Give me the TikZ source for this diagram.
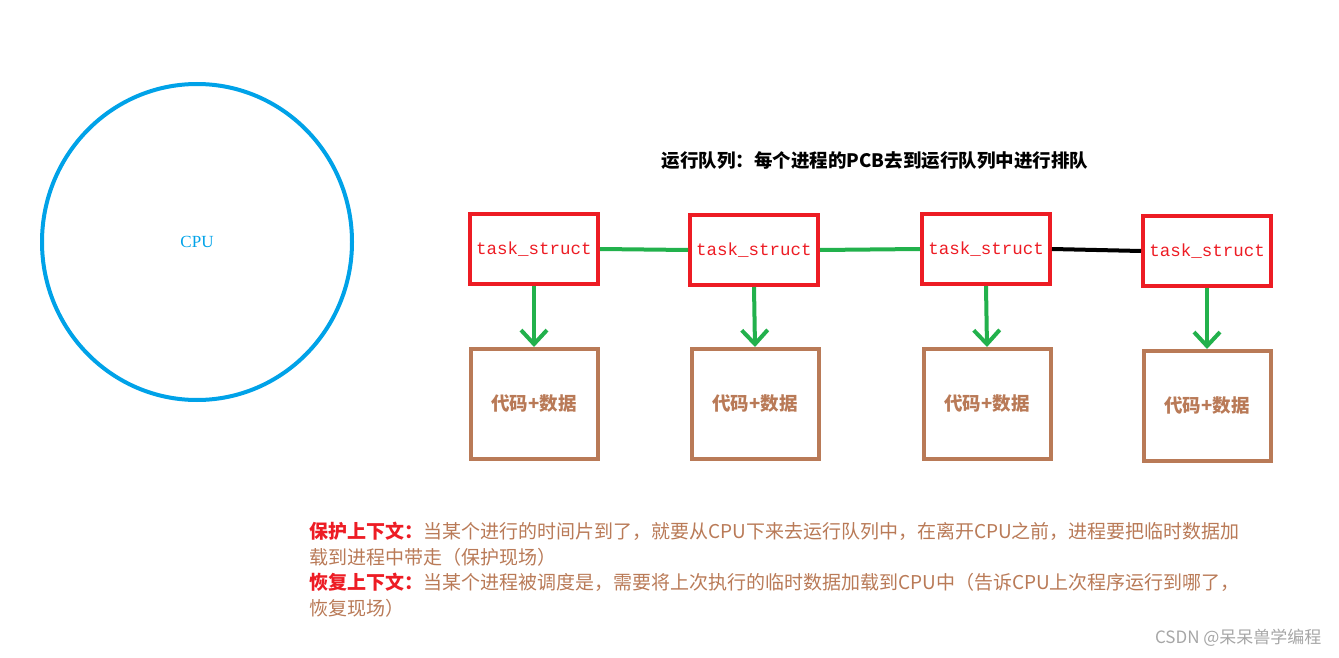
\documentclass[tikz,border=0pt]{standalone}
\usepackage{fontspec}
\setmainfont{Liberation Serif}
\setmonofont{Liberation Mono}
\newfontfamily\cjk{Noto Sans CJK SC}
\usetikzlibrary{arrows.meta}
\definecolor{pcbred}{RGB}{237,28,36}
\definecolor{codebrown}{RGB}{185,122,87}
\definecolor{linkgreen}{RGB}{34,177,76}
\definecolor{cpublue}{RGB}{0,162,232}
\begin{document}
\begin{tikzpicture}[x=1pt,y=-1pt]

\tikzset{pcb/.style = {draw=pcbred,line width=4pt,minimum width=128pt,minimum height=70pt,inner sep=0pt,text=pcbred,font=\ttfamily\fontsize{17.5}{17.5}\selectfont}}
\tikzset{code/.style = {draw=codebrown,line width=4pt,minimum width=127pt,minimum height=110pt,text=codebrown,font=\cjk\bfseries\fontsize{18.5}{18.5}\selectfont}}
\tikzset{link/.style = {linkgreen,line width=4pt}}
\tikzset{down/.style = {link,-{Straight Barb[length=14pt,width=26pt,line width=4pt]}}}
\useasboundingbox (0,0) rectangle (1339,658);
% cpu
\draw[cpublue,line width=4pt] (197,242) ellipse [x radius=155,y radius=158];
\node[text=cpublue,font=\fontsize{17}{17}\selectfont] (cpu) at (197,242) {CPU};
\node[font=\cjk\bfseries\fontsize{18.5}{18.5}\selectfont] (title) at (875,161) {运行队列：每个进程的PCB去到运行队列中进行排队};
% queue
\node[pcb] (p1) at (534,249) {task\_struct};
\node[pcb] (p2) at (754,250) {task\_struct};
\node[pcb] (p3) at (986,249) {task\_struct};
\node[pcb] (p4) at (1207,251) {task\_struct};
\node[code] (c1) at (534,404) {代码+数据};
\node[code] (c2) at (755,404) {代码+数据};
\node[code] (c3) at (987,404) {代码+数据};
\node[code] (c4) at (1207,406) {代码+数据};
%edges
\draw[link] (p1.east) -- (p2.west);
\draw[link] (p2.east) -- (p3.west);
\draw[black,line width=4pt] (p3.east) -- (p4.west);
\foreach \i in {1,...,4}
  \draw[down] (p\i.south) -- (c\i.north);
% notes
\node[anchor=north west,align=left,text=codebrown,font=\cjk\fontsize{19}{25.5}\selectfont,inner sep=0pt] (notes) at (309,522)
  {{\color{pcbred}\bfseries 保护上下文：}当某个进行的时间片到了，就要从CPU下来去运行队列中，在离开CPU之前，进程要把临时数据加\\
   载到进程中带走（保护现场）\\
   {\color{pcbred}\bfseries 恢复上下文：}当某个进程被调度是，需要将上次执行的临时数据加载到CPU中（告诉CPU上次程序运行到哪了，\\
   恢复现场）};
\node[text=gray!70,font=\cjk\fontsize{17}{17}\selectfont,anchor=east] (mark) at (1325,638) {CSDN @呆呆兽学编程};

\end{tikzpicture}
\end{document}
